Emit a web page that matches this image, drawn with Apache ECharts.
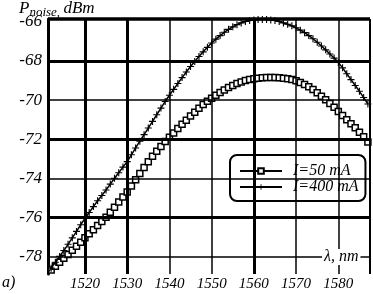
<!DOCTYPE html>
<html>
<head>
<meta charset="utf-8">
<script src="https://cdn.jsdelivr.net/npm/echarts@6/dist/echarts.min.js"></script>
<style>
  html, body { margin: 0; padding: 0; background: #fff; }
  #chart { width: 373px; height: 294px; }
</style>
</head>
<body>
<div id="chart"></div>
<script>
// wavelength, nm
const wavelength = [
  1511, 1512, 1513, 1514, 1515, 1516, 1517, 1518, 1519, 1520,
  1521, 1522, 1523, 1524, 1525, 1526, 1527, 1528, 1529, 1530,
  1531, 1532, 1533, 1534, 1535, 1536, 1537, 1538, 1539, 1540,
  1541, 1542, 1543, 1544, 1545, 1546, 1547, 1548, 1549, 1550,
  1551, 1552, 1553, 1554, 1555, 1556, 1557, 1558, 1559, 1560,
  1561, 1562, 1563, 1564, 1565, 1566, 1567, 1568, 1569, 1570,
  1571, 1572, 1573, 1574, 1575, 1576, 1577, 1578, 1579, 1580,
  1581, 1582, 1583, 1584, 1585, 1586, 1587
];

// P noise, dBm  (I = 50 mA)
const noise50 = [
  -78.90, -78.70, -78.50, -78.30, -78.10, -77.90, -77.69, -77.48, -77.27, -77.05,
  -76.84, -76.63, -76.42, -76.21, -76.00, -75.74, -75.48, -75.22, -74.96, -74.70,
  -74.40, -74.08, -73.76, -73.45, -73.15, -72.88, -72.62, -72.37, -72.12, -71.90,
  -71.68, -71.46, -71.24, -71.03, -70.82, -70.62, -70.42, -70.23, -70.06, -69.90,
  -69.75, -69.61, -69.48, -69.36, -69.25, -69.15, -69.07, -69.00, -68.95, -68.91,
  -68.88, -68.86, -68.85, -68.85, -68.85, -68.86, -68.88, -68.91, -68.95, -69.01,
  -69.10, -69.20, -69.32, -69.46, -69.62, -69.80, -69.98, -70.17, -70.37, -70.58,
  -70.79, -71.00, -71.21, -71.42, -71.64, -71.88, -72.15
];

// P noise, dBm  (I = 400 mA)
const noise400 = [
  -78.90, -78.60, -78.30, -78.00, -77.70, -77.38, -77.05, -76.72, -76.38, -76.05,
  -75.75, -75.45, -75.15, -74.88, -74.60, -74.30, -74.00, -73.72, -73.43, -73.15,
  -72.80, -72.45, -72.10, -71.77, -71.43, -71.09, -70.75, -70.41, -70.07, -69.75,
  -69.45, -69.15, -68.85, -68.56, -68.28, -68.02, -67.77, -67.53, -67.30, -67.08,
  -66.88, -66.70, -66.53, -66.38, -66.25, -66.14, -66.05, -65.98, -65.93, -65.90,
  -65.88, -65.87, -65.88, -65.90, -65.93, -65.98, -66.05, -66.12, -66.20, -66.30,
  -66.42, -66.55, -66.70, -66.86, -67.04, -67.23, -67.43, -67.64, -67.85, -68.07,
  -68.35, -68.65, -68.95, -69.25, -69.55, -69.87, -70.20
];

const xTicks = [1520, 1530, 1540, 1550, 1560, 1570, 1580];
const yTicks = [-78, -76, -74, -72, -70, -68, -66];
const xGridThick = [1520, 1530, 1560];
const xGridThin = [1540, 1550, 1570, 1580];
const yGridThick = [-68, -72, -76];
const yGridThin = [-70, -74, -78];

const xMin = 1511.25, xMax = 1587.5;
const yMin = -78.9, yMax = -65.85;

const serif = '"Liberation Serif", "DejaVu Serif", serif';
const plusPath = 'path://M4.2,0H5.8V4.2H10V5.8H5.8V10H4.2V5.8H0V4.2H4.2Z';

const chart = echarts.init(document.getElementById('chart'));

// сетка: толстые и тонкие линии
const gridLines = [
  ...xGridThick.map(v => ({ xAxis: v, lineStyle: { width: 3 } })),
  ...xGridThin.map(v => ({ xAxis: v, lineStyle: { width: 1.5 } })),
  ...yGridThick.map(v => ({ yAxis: v, lineStyle: { width: 3 } })),
  ...yGridThin.map(v => ({ yAxis: v, lineStyle: { width: 1.5 } })),
  { yAxis: yMax, lineStyle: { width: 3.5 } },
  { xAxis: xMax, lineStyle: { width: 2 } }
];

const option = {
  animation: false,
  backgroundColor: '#fff',
  grid: { left: 48, right: 3, top: 19, bottom: 20 },
  graphic: [
    {
      type: 'text',
      left: 19,
      top: 0,
      style: {
        text: '{p|P}{s|noise,} {p|dBm}',
        rich: {
          p: { fontFamily: serif, fontStyle: 'italic', fontSize: 17, fill: '#000', verticalAlign: 'top' },
          s: { fontFamily: serif, fontStyle: 'italic', fontSize: 13, fill: '#000', padding: [6, 0, 0, 0], verticalAlign: 'top' }
        }
      }
    },
    {
      type: 'text',
      left: 2,
      top: 275,
      style: { text: 'a)', font: 'italic 16px ' + serif, fill: '#000' }
    },
    {
      type: 'text',
      left: 322,
      top: 249,
      z: 10,
      style: {
        text: 'λ, nm',
        font: 'italic 16px ' + serif,
        fill: '#000',
        backgroundColor: '#fff',
        padding: [0, 2, 0, 2]
      }
    }
  ],
  legend: {
    left: 230,
    top: 155,
    orient: 'vertical',
    padding: [8, 7, 6, 9],
    itemGap: 0,
    itemWidth: 42,
    itemHeight: 7,
    borderColor: '#000',
    borderWidth: 2,
    borderRadius: 7,
    backgroundColor: '#fff',
    textStyle: { fontFamily: serif, fontStyle: 'italic', fontSize: 16, color: '#000', padding: [0, 0, 0, 6] },
    data: ['I=50 mA', 'I=400 mA']
  },
  xAxis: {
    type: 'value',
    min: xMin,
    max: xMax,
    axisLine: { show: false },
    axisTick: { show: false },
    splitLine: { show: false },
    axisLabel: {
      customValues: xTicks,
      formatter: v => String(v),
      margin: 3,
      color: '#000',
      fontFamily: serif,
      fontStyle: 'italic',
      fontSize: 15
    }
  },
  yAxis: {
    type: 'value',
    min: yMin,
    max: yMax,
    axisLine: { show: true, lineStyle: { color: '#000', width: 3 } },
    axisTick: { show: false },
    splitLine: { show: false },
    axisLabel: {
      customValues: yTicks,
      formatter: v => String(v),
      margin: 6,
      color: '#000',
      fontFamily: serif,
      fontStyle: 'italic',
      fontSize: 17
    }
  },
  series: [
    {
      name: 'grid',
      type: 'line',
      data: [],
      z: 1,
      silent: true,
      markLine: {
        silent: true,
        symbol: 'none',
        label: { show: false },
        lineStyle: { color: '#000', type: 'solid' },
        data: gridLines
      }
    },
    {
      name: 'I=50 mA',
      type: 'line',
      z: 3,
      data: wavelength.map((w, i) => [w, noise50[i]]),
      symbol: 'rect',
      symbolSize: 6,
      lineStyle: { color: '#000', width: 1.5 },
      itemStyle: { color: '#fff', borderColor: '#000', borderWidth: 1.5 }
    },
    {
      name: 'I=400 mA',
      type: 'line',
      z: 4,
      data: wavelength.map((w, i) => [w, noise400[i]]),
      symbol: plusPath,
      symbolSize: 7,
      lineStyle: { color: '#000', width: 1.5 },
      itemStyle: { color: '#000', borderColor: '#000', borderWidth: 0 }
    }
  ]
};

chart.setOption(option);
</script>
</body>
</html>
